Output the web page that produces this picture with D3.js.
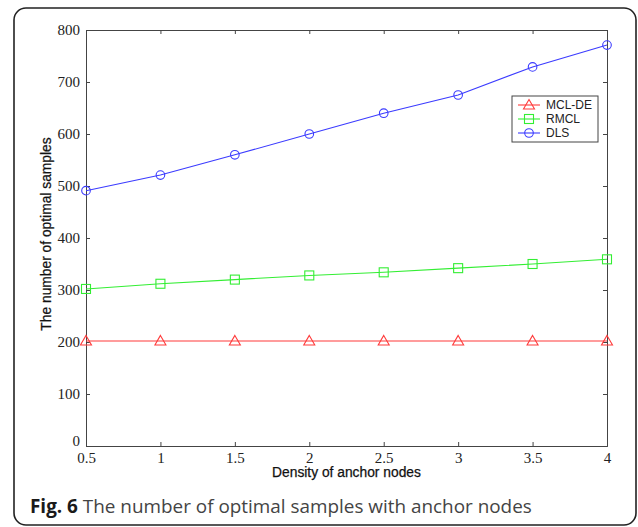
<!DOCTYPE html>
<html>
<head>
<meta charset="utf-8">
<script src="https://cdn.jsdelivr.net/npm/d3@7"></script>
<style>
  body { margin: 0; background: #fff; }
  .tick text { font-family: "Liberation Serif", "Times New Roman", serif; font-size: 15px; fill: #222; }
</style>
</head>
<body>
<div id="chart"></div>
<script>
var svgWidth = 638;
var svgHeight = 527;

// data
var density = [0.5, 1, 1.5, 2, 2.5, 3, 3.5, 4];
var mclde = [202, 202, 202, 202, 202, 202, 202, 202];
var rmcl = [302, 312, 320, 328, 334, 342, 350, 359];
var dls = [491, 521, 560, 600, 640, 675, 729, 771];
var xTicks = [0.5, 1, 1.5, 2, 2.5, 3, 3.5, 4];
var yTicks = [0, 100, 200, 300, 400, 500, 600, 700, 800];

var series = [
  {name: 'MCL-DE', values: mclde, color: '#ff3b3b', marker: 'triangle'},
  {name: 'RMCL', values: rmcl, color: '#33ee33', marker: 'square'},
  {name: 'DLS', values: dls, color: '#3b3bff', marker: 'circle'}
];

var margin = {top: 30, right: 31, bottom: 81, left: 86};
var width = svgWidth - margin.left - margin.right;
var height = svgHeight - margin.top - margin.bottom;

var svg = d3.select('#chart').append('svg')
  .attr('width', svgWidth)
  .attr('height', svgHeight);

// rounded frame around figure
svg.append('rect')
  .attr('x', 14).attr('y', 8)
  .attr('width', 622).attr('height', 517)
  .attr('rx', 12).attr('ry', 12)
  .attr('fill', 'none')
  .attr('stroke', '#222')
  .attr('stroke-width', 1.6);

var chartGroup = svg.append('g')
  .attr('transform', `translate(${margin.left}, ${margin.top})`);

var x = d3.scaleLinear().domain([0.5, 4]).range([0, width]);
var y = d3.scaleLinear().domain([0, 800]).range([height, 0]);

// axes, ticks point inward
var bottomAxis = d3.axisBottom(x).tickValues(xTicks).tickSize(-4).tickPadding(6)
  .tickFormat(d3.format('~g'));
var leftAxis = d3.axisLeft(y).tickValues(yTicks).tickSize(-4).tickPadding(6);
var topAxis = d3.axisTop(x).tickValues(xTicks).tickSize(-4).tickFormat('');
var rightAxis = d3.axisRight(y).tickValues(yTicks).tickSize(-4).tickFormat('');

var xAxis = chartGroup.append('g')
  .attr('transform', `translate(0, ${height})`)
  .call(bottomAxis);
xAxis.selectAll('text').attr('dy', '0.72em');

var yAxis = chartGroup.append('g').call(leftAxis);
yAxis.selectAll('.tick').filter(d => d === 0).select('text').attr('dy', '-0.05em');

chartGroup.append('g').call(topAxis);
chartGroup.append('g').attr('transform', `translate(${width}, 0)`).call(rightAxis);

chartGroup.selectAll('.domain, .tick line').attr('stroke', '#444');

function drawMarker(g, type, color, cx, cy) {
  if (type === 'triangle') {
    g.append('path')
      .attr('d', `M${cx},${cy - 5.5}L${cx + 5.5},${cy + 4}L${cx - 5.5},${cy + 4}Z`)
      .attr('fill', 'none').attr('stroke', color).attr('stroke-width', 1.1);
  } else if (type === 'square') {
    g.append('rect')
      .attr('x', cx - 4.5).attr('y', cy - 4.5).attr('width', 9).attr('height', 9)
      .attr('fill', 'none').attr('stroke', color).attr('stroke-width', 1.1);
  } else {
    g.append('circle')
      .attr('cx', cx).attr('cy', cy).attr('r', 4.3)
      .attr('fill', 'none').attr('stroke', color).attr('stroke-width', 1.1);
  }
}

var line = d3.line()
  .x((d, i) => x(density[i]))
  .y(d => y(d));

series.forEach(function(s) {
  var g = chartGroup.append('g');
  g.append('path')
    .datum(s.values)
    .attr('d', line)
    .attr('fill', 'none')
    .attr('stroke', s.color)
    .attr('stroke-width', 1.1);
  s.values.forEach(function(v, i) {
    drawMarker(g, s.marker, s.color, x(density[i]), y(v));
  });
});

// legend
var legend = chartGroup.append('g')
  .attr('transform', `translate(${512 - margin.left}, ${96 - margin.top})`);
legend.append('rect')
  .attr('width', 86).attr('height', 46)
  .attr('fill', '#fff').attr('stroke', '#444').attr('stroke-width', 1);
series.forEach(function(s, i) {
  var ly = 9 + i * 14;
  legend.append('line')
    .attr('x1', 6).attr('x2', 28).attr('y1', ly).attr('y2', ly)
    .attr('stroke', s.color).attr('stroke-width', 1.1);
  drawMarker(legend, s.marker, s.color, 17, ly);
  legend.append('text')
    .attr('x', 34).attr('y', ly).attr('dy', '0.35em')
    .attr('font-family', 'Liberation Sans, Arial, sans-serif')
    .attr('font-size', '12px')
    .attr('fill', '#222')
    .text(s.name);
});

// axis labels
svg.append('text')
  .attr('x', margin.left + width / 2)
  .attr('y', 477)
  .attr('text-anchor', 'middle')
  .attr('font-family', 'Liberation Sans, Arial, sans-serif')
  .attr('font-size', '13.8px')
  .attr('fill', '#111')
  .attr('stroke', '#111')
  .attr('stroke-width', 0.25)
  .text('Density of anchor nodes');

svg.append('text')
  .attr('transform', `translate(51, 234) rotate(-90)`)
  .attr('text-anchor', 'middle')
  .attr('font-family', 'Liberation Sans, Arial, sans-serif')
  .attr('font-size', '13.8px')
  .attr('fill', '#111')
  .attr('stroke', '#111')
  .attr('stroke-width', 0.25)
  .text('The number of optimal samples');

// caption
var caption = svg.append('text')
  .attr('x', 30).attr('y', 513)
  .attr('font-family', 'Open Sans, sans-serif')
  .attr('font-size', '18.9px')
  .attr('fill', '#444');
caption.append('tspan').attr('font-weight', 'bold').attr('fill', '#1a1a1a').text('Fig. 6');
caption.append('tspan').text(' The number of optimal samples with anchor nodes');
</script>
</body>
</html>
